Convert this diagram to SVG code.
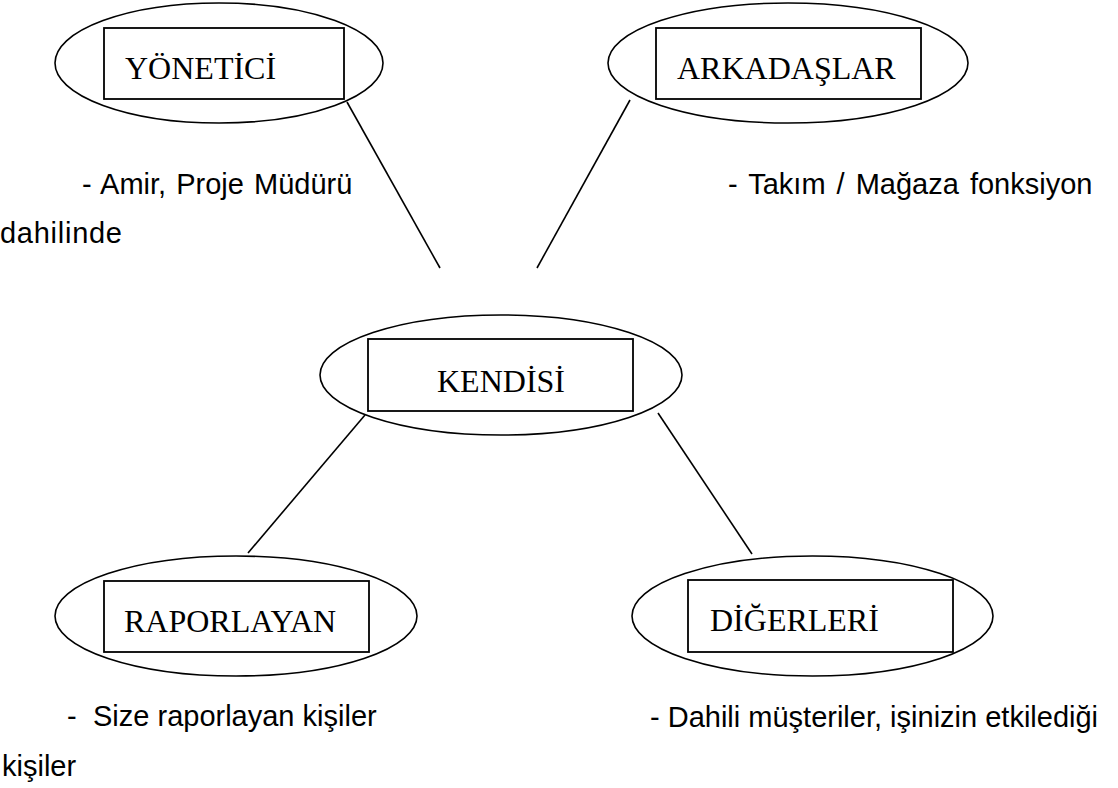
<svg xmlns="http://www.w3.org/2000/svg" width="1118" height="788" viewBox="0 0 1118 788">
  <style>
    .oval { fill: none; stroke: #000; stroke-width: 1.6; }
    .box { fill: none; stroke: #000; stroke-width: 1.8; }
    .title { font-family: "Liberation Serif", "Times New Roman", serif; font-size: 32px; fill: #000; }
    .note { font-family: "Liberation Sans", Arial, sans-serif; font-size: 29px; fill: #000; }
    .link { stroke: #000; stroke-width: 1.6; fill: none; }
  </style>
  <rect width="1118" height="788" fill="#fff"/>

  <!-- connectors between the central node and its four neighbours -->
  <g id="connectors">
    <line class="link" x1="347" y1="102" x2="440" y2="268"/>
    <line class="link" x1="630" y1="100" x2="537" y2="268"/>
    <line class="link" x1="365" y1="415" x2="248" y2="553"/>
    <line class="link" x1="658" y1="413" x2="752" y2="554"/>
  </g>

  <g id="node-yonetici">
    <ellipse class="oval" cx="219" cy="63" rx="164" ry="60"/>
    <rect class="box" x="104" y="28" width="240" height="71"/>
    <text class="title" x="125" y="79">YÖNETİCİ</text>
  </g>

  <g id="node-arkadaslar">
    <ellipse class="oval" cx="788" cy="63" rx="180" ry="60"/>
    <rect class="box" x="656" y="28" width="265" height="71"/>
    <text class="title" x="677" y="79">ARKADAŞLAR</text>
  </g>

  <g id="node-kendisi">
    <ellipse class="oval" cx="501" cy="375" rx="181" ry="60"/>
    <rect class="box" x="368" y="339" width="265" height="72"/>
    <text class="title" x="437" y="392">KENDİSİ</text>
  </g>

  <g id="node-raporlayan">
    <ellipse class="oval" cx="236" cy="616" rx="181" ry="60"/>
    <rect class="box" x="104" y="581" width="265" height="71"/>
    <text class="title" x="124" y="632">RAPORLAYAN</text>
  </g>

  <g id="node-digerleri">
    <ellipse class="oval" cx="812.5" cy="616" rx="180.5" ry="60"/>
    <rect class="box" x="688" y="580" width="265" height="72"/>
    <text class="title" x="710" y="631">DİĞERLERİ</text>
  </g>

  <!-- descriptive notes -->
  <g id="notes">
    <text class="note" x="82" y="194" word-spacing="2">- Amir, Proje Müdürü</text>
    <text class="note" x="0" y="243" textLength="122">dahilinde</text>
    <text class="note" x="728" y="194" word-spacing="3">- Takım / Mağaza fonksiyon</text>
    <text class="note" y="726"><tspan x="67">-</tspan><tspan x="93">Size raporlayan kişiler</tspan></text>
    <text class="note" x="2" y="776">kişiler</text>
    <text class="note" x="650" y="727">- Dahili müşteriler, işinizin etkilediği</text>
  </g>
</svg>
